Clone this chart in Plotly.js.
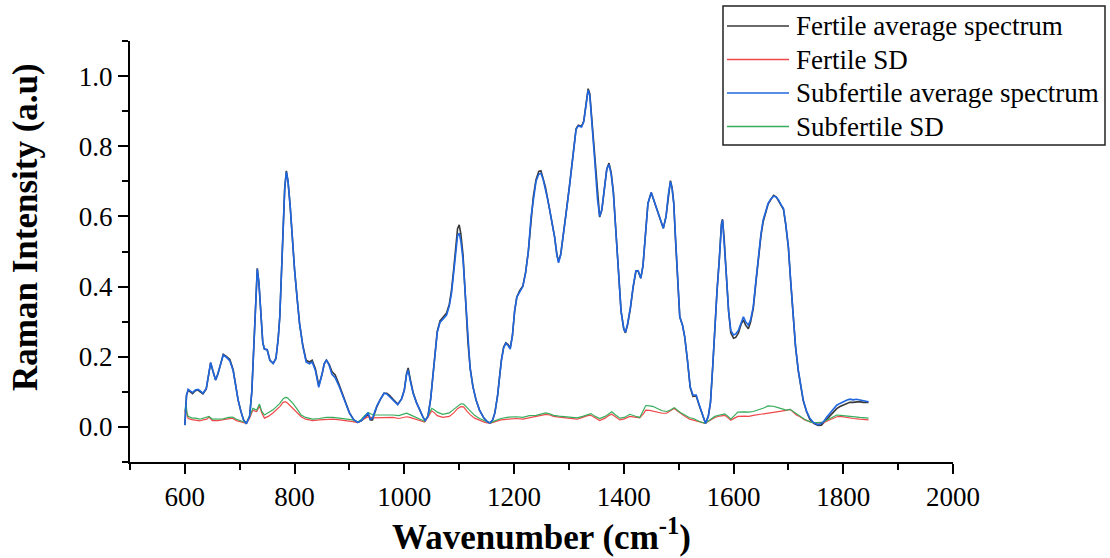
<!DOCTYPE html>
<html>
<head>
<meta charset="utf-8">
<script src="https://cdn.plot.ly/plotly-3.0.1.min.js"></script>
<style>
html,body{margin:0;padding:0;background:#fff;}
#chart{width:1110px;height:558px;}
</style>
</head>
<body>
<div id="chart"></div>
<script>
// Wavenumber (cm-1) sampling for the average spectra
const wnAvg = [600,603,606,614,619,624,628,633,639,644,647,651,656,660,664,670,676,682,688,692,697,702,707,712,718,722,725,729,732,735,738,742,745,750,755,761,766,770,773,776,779,782,785,788,792,796,800,805,809,815,821,827,832,838,844,850,854,858,863,868,874,880,888,894,900,908,915,922,928,934,938,942,946,950,956,963,968,973,980,988,995,1000,1004,1007,1011,1016,1022,1028,1034,1038,1043,1048,1052,1056,1060,1065,1071,1077,1082,1086,1090,1094,1097,1100,1103,1107,1111,1116,1120,1125,1131,1137,1145,1151,1156,1161,1165,1170,1174,1177,1181,1185,1189,1193,1197,1201,1205,1210,1216,1221,1226,1231,1235,1240,1245,1249,1253,1257,1261,1265,1270,1274,1278,1281,1285,1289,1295,1301,1307,1313,1317,1323,1327,1331,1335,1338,1342,1347,1352,1356,1360,1365,1369,1373,1377,1381,1386,1390,1395,1400,1403,1407,1412,1417,1422,1426,1431,1435,1440,1444,1450,1455,1460,1466,1472,1477,1481,1485,1488,1491,1494,1497,1502,1507,1511,1516,1521,1526,1532,1537,1542,1549,1554,1558,1562,1566,1570,1574,1578,1580,1583,1587,1591,1595,1600,1604,1609,1614,1618,1622,1627,1631,1636,1641,1645,1650,1654,1659,1663,1668,1673,1678,1682,1687,1691,1695,1700,1704,1709,1713,1718,1722,1727,1733,1739,1746,1754,1760,1764,1770,1776,1782,1788,1794,1800,1806,1812,1818,1824,1830,1836,1842,1846];

const subfertileAvg = [0.005,0.09,0.107,0.098,0.105,0.107,0.103,0.096,0.11,0.155,0.183,0.16,0.134,0.15,0.175,0.205,0.198,0.188,0.16,0.12,0.077,0.045,0.02,0.009,0.03,0.1,0.22,0.38,0.45,0.41,0.33,0.24,0.222,0.22,0.19,0.181,0.195,0.25,0.314,0.43,0.56,0.68,0.727,0.7,0.628,0.53,0.447,0.36,0.295,0.23,0.185,0.18,0.185,0.16,0.113,0.15,0.18,0.191,0.175,0.15,0.14,0.12,0.086,0.06,0.039,0.02,0.013,0.018,0.028,0.04,0.022,0.025,0.043,0.06,0.078,0.096,0.094,0.086,0.075,0.063,0.08,0.105,0.148,0.162,0.13,0.096,0.07,0.048,0.028,0.018,0.03,0.08,0.15,0.22,0.27,0.298,0.31,0.319,0.345,0.381,0.44,0.51,0.545,0.552,0.53,0.476,0.37,0.238,0.165,0.115,0.075,0.048,0.025,0.015,0.011,0.02,0.04,0.09,0.15,0.19,0.225,0.238,0.232,0.222,0.26,0.33,0.37,0.385,0.4,0.44,0.5,0.6,0.65,0.7,0.72,0.723,0.705,0.68,0.65,0.618,0.575,0.54,0.49,0.468,0.49,0.533,0.61,0.685,0.77,0.848,0.858,0.855,0.87,0.92,0.96,0.945,0.87,0.76,0.65,0.6,0.62,0.69,0.735,0.748,0.72,0.666,0.54,0.428,0.33,0.28,0.27,0.295,0.34,0.4,0.445,0.445,0.424,0.46,0.56,0.637,0.668,0.645,0.618,0.59,0.566,0.6,0.66,0.699,0.68,0.637,0.54,0.438,0.314,0.29,0.257,0.19,0.115,0.091,0.091,0.065,0.039,0.01,0.03,0.07,0.17,0.286,0.39,0.476,0.575,0.59,0.53,0.43,0.33,0.275,0.262,0.265,0.276,0.3,0.314,0.3,0.29,0.305,0.343,0.42,0.485,0.55,0.59,0.62,0.637,0.65,0.658,0.655,0.647,0.632,0.623,0.58,0.514,0.42,0.305,0.23,0.162,0.12,0.077,0.045,0.025,0.012,0.006,0.01,0.015,0.028,0.039,0.052,0.062,0.067,0.072,0.076,0.079,0.077,0.079,0.077,0.075,0.073,0.072];

const fertileAvg = [0.005,0.09,0.105,0.095,0.103,0.105,0.1,0.094,0.108,0.155,0.183,0.16,0.134,0.15,0.175,0.207,0.2,0.192,0.163,0.12,0.077,0.045,0.02,0.009,0.03,0.1,0.22,0.38,0.452,0.41,0.33,0.24,0.222,0.22,0.19,0.181,0.195,0.25,0.314,0.43,0.56,0.68,0.73,0.7,0.628,0.53,0.447,0.36,0.295,0.232,0.19,0.185,0.19,0.165,0.118,0.15,0.18,0.19,0.178,0.158,0.148,0.125,0.09,0.062,0.04,0.02,0.013,0.018,0.026,0.036,0.02,0.02,0.04,0.058,0.078,0.096,0.096,0.09,0.078,0.065,0.08,0.105,0.152,0.168,0.135,0.098,0.07,0.048,0.028,0.018,0.03,0.08,0.15,0.22,0.272,0.302,0.315,0.325,0.35,0.39,0.45,0.53,0.565,0.576,0.55,0.49,0.375,0.24,0.168,0.115,0.075,0.048,0.025,0.015,0.011,0.02,0.04,0.09,0.15,0.192,0.228,0.24,0.235,0.225,0.26,0.33,0.37,0.388,0.402,0.44,0.5,0.6,0.655,0.705,0.728,0.73,0.71,0.685,0.652,0.62,0.575,0.54,0.492,0.472,0.492,0.535,0.612,0.688,0.772,0.85,0.86,0.857,0.872,0.925,0.964,0.95,0.872,0.76,0.652,0.598,0.618,0.69,0.735,0.752,0.725,0.67,0.545,0.43,0.33,0.278,0.268,0.292,0.338,0.398,0.443,0.445,0.424,0.46,0.56,0.637,0.668,0.645,0.618,0.59,0.566,0.6,0.66,0.702,0.682,0.64,0.54,0.44,0.314,0.29,0.257,0.19,0.112,0.087,0.088,0.063,0.039,0.01,0.03,0.07,0.17,0.286,0.39,0.476,0.58,0.592,0.535,0.43,0.33,0.268,0.253,0.255,0.268,0.293,0.305,0.29,0.28,0.298,0.338,0.415,0.48,0.545,0.585,0.617,0.635,0.648,0.66,0.655,0.645,0.63,0.62,0.578,0.51,0.418,0.302,0.228,0.16,0.118,0.075,0.044,0.022,0.01,0.004,0.005,0.012,0.022,0.032,0.044,0.052,0.058,0.062,0.066,0.07,0.07,0.072,0.072,0.07,0.071,0.07];

// Wavenumber sampling for the standard deviation curves
const wnSD = [600,602,604,606,613,620,627,633,640,644,650,660,670,680,687,694,700,706,712,718,724,728,731,736,740,745,752,760,767,773,779,783,787,792,797,805,812,820,833,845,858,870,882,894,906,915,922,928,934,943,955,967,979,990,998,1004,1010,1016,1024,1030,1037,1044,1050,1055,1060,1070,1082,1090,1097,1103,1108,1114,1120,1128,1137,1147,1156,1166,1176,1190,1204,1216,1228,1240,1250,1258,1265,1272,1282,1295,1305,1315,1325,1334,1340,1348,1356,1366,1373,1378,1385,1393,1401,1411,1420,1429,1436,1440,1447,1454,1462,1470,1478,1485,1492,1497,1503,1512,1520,1527,1537,1548,1557,1566,1575,1584,1590,1595,1602,1608,1620,1628,1636,1645,1655,1663,1672,1681,1690,1696,1703,1709,1714,1721,1730,1742,1752,1764,1774,1782,1788,1795,1805,1818,1830,1846];

const fertileSD = [0.04,0.055,0.035,0.024,0.021,0.02,0.017,0.02,0.022,0.028,0.018,0.018,0.02,0.023,0.025,0.018,0.015,0.012,0.01,0.025,0.048,0.045,0.044,0.06,0.04,0.025,0.03,0.039,0.048,0.058,0.07,0.072,0.068,0.06,0.053,0.04,0.029,0.022,0.018,0.02,0.022,0.022,0.02,0.018,0.015,0.012,0.018,0.024,0.029,0.026,0.027,0.027,0.027,0.024,0.026,0.029,0.027,0.024,0.02,0.017,0.014,0.03,0.046,0.04,0.032,0.027,0.03,0.04,0.052,0.058,0.057,0.045,0.035,0.025,0.019,0.013,0.01,0.016,0.02,0.022,0.024,0.022,0.026,0.028,0.032,0.036,0.034,0.03,0.028,0.025,0.024,0.022,0.027,0.032,0.033,0.025,0.018,0.025,0.033,0.036,0.028,0.02,0.023,0.03,0.028,0.026,0.038,0.048,0.047,0.044,0.042,0.039,0.039,0.045,0.053,0.046,0.039,0.03,0.022,0.02,0.015,0.01,0.019,0.027,0.031,0.033,0.026,0.019,0.025,0.03,0.031,0.03,0.033,0.035,0.037,0.039,0.04,0.042,0.044,0.047,0.05,0.042,0.035,0.029,0.02,0.013,0.011,0.012,0.02,0.026,0.029,0.03,0.027,0.024,0.022,0.02];

const subfertileSD = [0.045,0.067,0.04,0.03,0.025,0.025,0.022,0.025,0.027,0.03,0.022,0.022,0.023,0.027,0.028,0.022,0.019,0.014,0.012,0.03,0.053,0.05,0.048,0.065,0.045,0.034,0.04,0.048,0.058,0.067,0.08,0.084,0.083,0.075,0.067,0.05,0.034,0.027,0.022,0.024,0.027,0.027,0.025,0.022,0.02,0.014,0.022,0.033,0.041,0.034,0.034,0.036,0.034,0.032,0.036,0.039,0.035,0.031,0.025,0.02,0.016,0.035,0.053,0.048,0.042,0.036,0.04,0.05,0.06,0.066,0.065,0.055,0.046,0.033,0.024,0.016,0.011,0.018,0.024,0.028,0.029,0.027,0.032,0.033,0.037,0.04,0.037,0.033,0.031,0.029,0.027,0.026,0.03,0.036,0.038,0.03,0.024,0.03,0.038,0.043,0.034,0.025,0.027,0.036,0.031,0.027,0.048,0.061,0.06,0.058,0.052,0.046,0.044,0.048,0.055,0.048,0.041,0.033,0.026,0.024,0.016,0.01,0.02,0.03,0.034,0.037,0.03,0.022,0.033,0.042,0.043,0.042,0.044,0.048,0.054,0.06,0.059,0.055,0.05,0.048,0.05,0.044,0.037,0.03,0.021,0.013,0.012,0.014,0.022,0.029,0.034,0.033,0.031,0.029,0.027,0.025];

// Legend order (as in the reference) and colours
const legendNames = ["Fertile average spectrum","Fertile SD","Subfertile average spectrum","Subfertile SD"];
const legendColors = ["#3a3a3a","#f0484a","#1f66e0","#36ad5c"];

const FONT = "Liberation Serif, 'Times New Roman', Times, serif";

// Plot-area geometry (pixels) used to place the boxed legend and y title
const W = 1110, H = 558;
const M = {l:130, r:157, t:41, b:96};
const pw = W - M.l - M.r, ph = H - M.t - M.b;
const px2x = px => (px - M.l) / pw;
const py2y = py => (H - M.b - py) / ph;

const traces = [
  {x: wnAvg, y: fertileAvg, name: legendNames[0], line:{color:legendColors[0], width:1.6}},
  {x: wnSD, y: fertileSD, name: legendNames[1], line:{color:legendColors[1], width:1.2}},
  {x: wnSD, y: subfertileSD, name: legendNames[3], line:{color:legendColors[3], width:1.2}},
  {x: wnAvg, y: subfertileAvg, name: legendNames[2], line:{color:legendColors[2], width:1.6}}
].map(t => Object.assign({type:'scatter', mode:'lines', hoverinfo:'skip', showlegend:false}, t));

// Boxed legend drawn in paper coordinates
const shapes = [{
  type:'rect', xref:'paper', yref:'paper',
  x0:px2x(723), x1:px2x(1105), y0:py2y(145), y1:py2y(6),
  line:{color:'#222', width:1.5}, fillcolor:'#fff', layer:'above'
}];
const annotations = [];
const rowY = [26, 59.5, 93, 126.5];
legendNames.forEach((nm, i) => {
  shapes.push({type:'line', xref:'paper', yref:'paper',
    x0:px2x(727), x1:px2x(789), y0:py2y(rowY[i]), y1:py2y(rowY[i]),
    line:{color:legendColors[i], width:1.6}, layer:'above'});
  annotations.push({xref:'paper', yref:'paper', x:px2x(794), y:py2y(rowY[i]),
    xanchor:'left', yanchor:'middle', showarrow:false, text:nm,
    font:{family:FONT, size:27, color:'#000'}});
});
// Y axis title
annotations.push({xref:'paper', yref:'paper', x:px2x(25), y:py2y(227),
  xanchor:'center', yanchor:'middle', showarrow:false, textangle:-90,
  text:'Raman Intensity (a.u)', font:{family:FONT, size:35, color:'#000', weight:'bold'}});

const layout = {
  width:W, height:H,
  margin:{l:M.l, r:M.r, t:M.t, b:M.b, autoexpand:false},
  paper_bgcolor:'#fff', plot_bgcolor:'#fff',
  font:{family:FONT, color:'#000'},
  showlegend:false,
  shapes, annotations,
  xaxis:{
    range:[500,2000], tick0:0, dtick:200, automargin:false,
    showline:true, linecolor:'#000', linewidth:2,
    ticks:'outside', ticklen:10, tickwidth:2, tickcolor:'#000',
    tickfont:{family:FONT, size:27, color:'#000'},
    minor:{dtick:100, ticks:'outside', ticklen:6, tickwidth:2, tickcolor:'#000'},
    showgrid:false, zeroline:false, mirror:false,
    title:{text:'Wavenumber (cm<sup>-1</sup>)', font:{family:FONT, size:35, color:'#000', weight:'bold'}, standoff:6}
  },
  yaxis:{
    range:[-0.1,1.1], tick0:0, dtick:0.2, tickformat:'.1f', automargin:false,
    showline:true, linecolor:'#000', linewidth:2,
    ticks:'outside', ticklen:10, tickwidth:2, tickcolor:'#000',
    tickfont:{family:FONT, size:27, color:'#000'},
    minor:{dtick:0.1, ticks:'outside', ticklen:6, tickwidth:2, tickcolor:'#000'},
    showgrid:false, zeroline:false, mirror:false
  }
};

Plotly.newPlot('chart', traces, layout, {displayModeBar:false, staticPlot:true});
</script>
</body>
</html>
